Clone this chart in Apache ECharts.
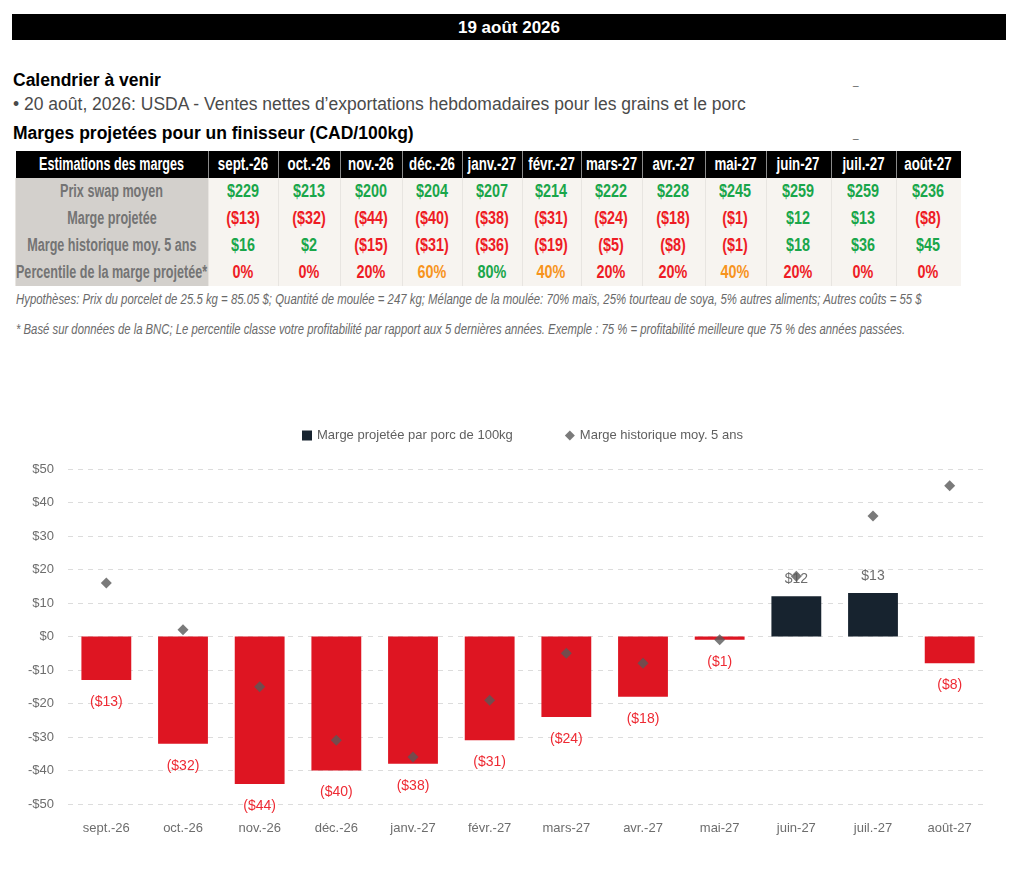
<!DOCTYPE html>
<html>
<head>
<meta charset="utf-8">
<script src="https://cdn.jsdelivr.net/npm/echarts@6/dist/echarts.min.js"></script>
<style>
  body { margin: 0; background: #fff; font-family: "Liberation Sans", Arial, sans-serif; }
  #page { position: relative; width: 1024px; height: 872px; overflow: hidden; }
  #banner { position: absolute; left: 12px; top: 14px; width: 994px; height: 26px; background: #000;
    color: #fff; font-weight: bold; font-size: 17px; line-height: 27px; text-align: center; }
  .h { position: absolute; left: 13px; font-weight: bold; font-size: 17.5px; color: #000; white-space: nowrap; }
  .sub { position: absolute; left: 13px; font-size: 17.5px; color: #4a4a4a; white-space: nowrap; }
  .tick { position: absolute; left: 853px; font-size: 10px; color: #555; }
  #tbl { position: absolute; left: 15px; top: 151px; border-collapse: collapse; table-layout: fixed;
    width: 943px; font-weight: bold; }
  #tbl th, #tbl td { white-space: nowrap; overflow: visible; padding: 0; text-align: center; }
  #tbl th { background: #000; color: #fff; font-size: 18px; height: 27px;
    border-left: 1px solid #8a8a8a; }
  #tbl td { height: 27px; font-size: 18px; background: #f7f4f0; border-left: 1px solid #e8e5e1; }
  #tbl td.lab { background: #d3d0cc; color: #747474; }
  #tbl span { display: inline-block; margin: 0 -80px; transform: scaleX(0.74); }
  #tbl td span { transform: scaleX(0.8); }
  #tbl td.lab span, #tbl th.first span { transform: scaleX(0.7); }
  .note { position: absolute; left: 16px; font-style: italic; font-size: 14px; color: #6a6a6a;
    white-space: nowrap; transform-origin: 0 50%; }
  #chart { position: absolute; left: 0; top: 410px; width: 1024px; height: 462px; }
</style>
</head>
<body>
<div id="page">
  <div id="banner">19 août 2026</div>
  <div class="h" style="top:70px">Calendrier à venir</div>
  <div class="tick" style="top:76px">_</div>
  <div class="sub" style="top:94px">• 20 août, 2026: USDA - Ventes nettes d’exportations hebdomadaires pour les grains et le porc</div>
  <div class="h" style="top:123px">Marges projetées pour un finisseur (CAD/100kg)</div>
  <div class="tick" style="top:129px">_</div>
  <table id="tbl"></table>
  <div class="note" id="note1" data-w="906" style="top:291px">Hypothèses: Prix du porcelet de 25.5 kg = 85.05 $; Quantité de moulée = 247 kg; Mélange de la moulée: 70% maïs, 25% tourteau de soya, 5% autres aliments; Autres coûts = 55 $</div>
  <div class="note" id="note2" data-w="889" style="top:321px">* Basé sur données de la BNC; Le percentile classe votre profitabilité par rapport aux 5 dernières années. Exemple : 75 % = profitabilité meilleure que 75 % des années passées.</div>
  <div id="chart"></div>
</div>
<script>
var months = ["sept.-26", "oct.-26", "nov.-26", "déc.-26", "janv.-27", "févr.-27", "mars-27", "avr.-27", "mai-27", "juin-27", "juil.-27", "août-27"];
var prixSwap = [229, 213, 200, 204, 207, 214, 222, 228, 245, 259, 259, 236];
var margeProjetee = [-13, -32, -44, -40, -38, -31, -24, -18, -1, 12, 13, -8];
var margeHistorique = [16, 2, -15, -31, -36, -19, -5, -8, -1, 18, 36, 45];
var percentile = [0, 0, 20, 60, 80, 40, 20, 20, 40, 20, 0, 0];
var rowLabels = ["Prix swap moyen", "Marge projetée", "Marge historique moy. 5 ans", "Percentile de la marge projetée*"];

var GREEN = "#1aa64a", RED = "#ee1c25", ORANGE = "#f7941d";

function money(v) {
  return v < 0 ? "($" + Math.abs(v) + ")" : "$" + v;
}
function pctColor(p) {
  if (p >= 80) return GREEN;
  if (p >= 40) return ORANGE;
  return RED;
}

// table (widths exclude the 1px column rule)
var colW = [69, 61, 61, 59, 59, 58, 60, 62, 60, 64, 64, 64];
var html = "<tr><th class='first' style='width:192px;border-left:none'><span>Estimations des marges</span></th>";
months.forEach(function (m, i) { html += "<th style='width:" + colW[i] + "px'><span>" + m + "</span></th>"; });
html += "</tr>";
var rows = [prixSwap, margeProjetee, margeHistorique];
rows.forEach(function (r, k) {
  html += "<tr><td class='lab'><span>" + rowLabels[k] + "</span></td>";
  r.forEach(function (v) {
    html += "<td style='color:" + (v < 0 ? RED : GREEN) + "'><span>" + money(v) + "</span></td>";
  });
  html += "</tr>";
});
html += "<tr><td class='lab'><span>" + rowLabels[3] + "</span></td>";
percentile.forEach(function (p) {
  html += "<td style='color:" + pctColor(p) + "'><span>" + p + "%</span></td>";
});
html += "</tr>";
document.getElementById("tbl").innerHTML = html;

// squeeze the italic notes to the width they take in the source
["note1", "note2"].forEach(function (id) {
  var el = document.getElementById(id);
  var s = (+el.getAttribute("data-w")) / el.scrollWidth;
  el.style.transform = "scaleX(" + s + ")";
});

// chart
var chart = echarts.init(document.getElementById("chart"));
var labelFont = "'Liberation Sans', Arial, sans-serif";
chart.setOption({
  animation: false,
  textStyle: { fontFamily: labelFont },
  legend: {
    top: 14,
    left: 297,
    itemGap: 52,
    textStyle: { color: "#5f5f5f", fontSize: 13, fontFamily: labelFont },
    data: [
      { name: "Marge projetée par porc de 100kg", icon: "rect", itemStyle: { color: "#17232f" } },
      { name: "Marge historique moy. 5 ans", icon: "diamond" }
    ],
    itemWidth: 10,
    itemHeight: 10
  },
  grid: { left: 68, right: 36, top: 59, bottom: 68 },
  xAxis: {
    type: "category",
    data: months,
    axisLine: { show: false },
    axisTick: { show: false },
    axisLabel: { color: "#6d6d6d", fontSize: 13, margin: 18 }
  },
  yAxis: {
    type: "value",
    min: -50,
    max: 50,
    interval: 10,
    axisLabel: {
      color: "#6d6d6d",
      fontSize: 13,
      margin: 14,
      formatter: function (v) { return v < 0 ? "-$" + Math.abs(v) : "$" + v; }
    },
    splitLine: { lineStyle: { color: "#dcdcdc", type: [5, 5] } }
  },
  series: [
    {
      name: "Marge projetée par porc de 100kg",
      type: "bar",
      barWidth: "65%",
      data: margeProjetee.map(function (v) {
        return {
          value: v,
          itemStyle: { color: v < 0 ? "#de1522" : "#17232f" },
          label: {
            position: v < 0 ? "bottom" : "top",
            distance: v < 0 ? 15 : 10,
            color: v < 0 ? "#ee2a33" : "#6d6d6d"
          }
        };
      }),
      label: {
        show: true,
        fontSize: 14,
        formatter: function (p) { return money(p.value); }
      }
    },
    {
      name: "Marge historique moy. 5 ans",
      type: "scatter",
      symbol: "diamond",
      symbolSize: 11,
      z: 5,
      itemStyle: { color: "#595959" },
      data: margeHistorique
    }
  ]
});
</script>
</body>
</html>
